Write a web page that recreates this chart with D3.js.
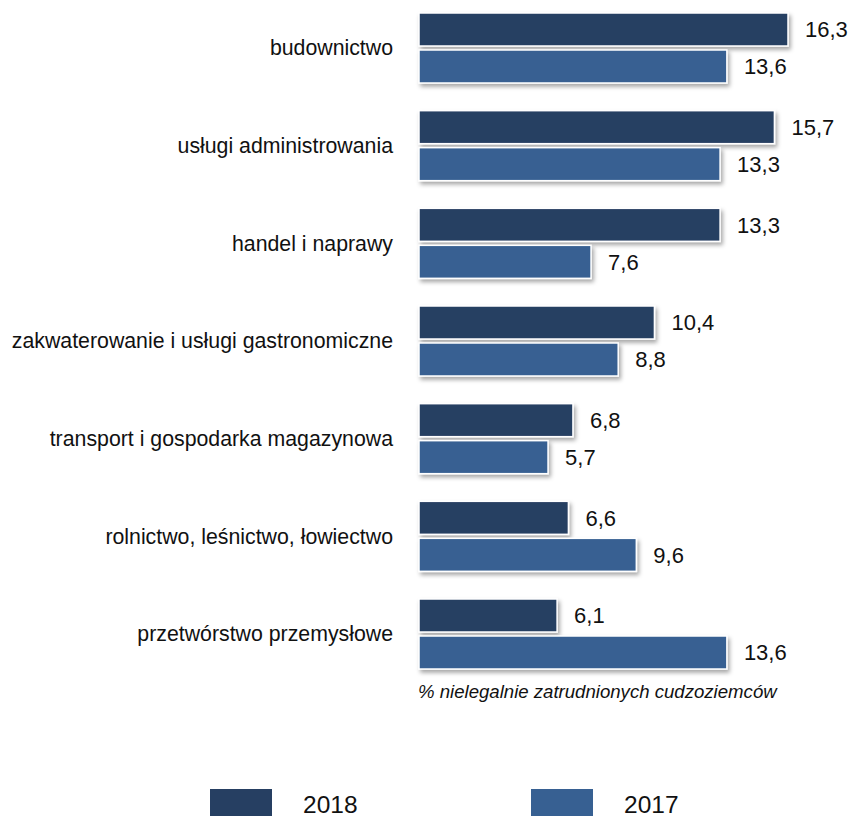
<!DOCTYPE html>
<html>
<head>
<meta charset="utf-8">
<script src="https://cdn.jsdelivr.net/npm/d3@7"></script>
<style>
  html, body { margin: 0; padding: 0; background: #fff; }
  svg { display: block; font-family: "Liberation Sans", Arial, Helvetica, sans-serif; }
</style>
</head>
<body>
<svg id="chart" width="853" height="816"></svg>
<script>
// Sectors and share of illegally employed foreigners (%)
const categories = [
  "budownictwo",
  "usługi administrowania",
  "handel i naprawy",
  "zakwaterowanie i usługi gastronomiczne",
  "transport i gospodarka magazynowa",
  "rolnictwo, leśnictwo, łowiectwo",
  "przetwórstwo przemysłowe"
];
const seriesNames = ["2018", "2017"];
const values2018 = [16.3, 15.7, 13.3, 10.4, 6.8, 6.6, 6.1];
const values2017 = [13.6, 13.3, 7.6, 8.8, 5.7, 9.6, 13.6];
const colors = ["#263f62", "#376092"];
const axisTitle = "% nielegalnie zatrudnionych cudzoziemców";

const svg = d3.select("#chart");

// bar shadow
const defs = svg.append("defs");
const f = defs.append("filter").attr("id", "shadow")
  .attr("x", "-5%").attr("y", "-20%").attr("width", "115%").attr("height", "160%");
f.append("feDropShadow").attr("dx", 2).attr("dy", 3).attr("stdDeviation", 2)
  .attr("flood-color", "#000").attr("flood-opacity", 0.35);

const x = d3.scaleLinear().domain([0, 16.3]).range([419, 788]);
const y = d3.scaleBand().domain(categories).range([13, 669])
  .paddingInner(1 - 70 / 97.67).paddingOuter(0);
const yInner = d3.scaleBand().domain(seriesNames).range([0, y.bandwidth()])
  .paddingInner(4 / 37).paddingOuter(0);

const fmt = v => d3.format(".1f")(v).replace(".", ",");

const rows = categories.map((c, i) => ({
  cat: c,
  vals: [
    { s: "2018", v: values2018[i] },
    { s: "2017", v: values2017[i] }
  ]
}));

const groups = svg.append("g").selectAll("g").data(rows).join("g")
  .attr("transform", d => `translate(0,${y(d.cat)})`);

groups.selectAll("rect").data(d => d.vals).join("rect")
  .attr("x", x(0))
  .attr("y", d => yInner(d.s))
  .attr("width", d => x(d.v) - x(0))
  .attr("height", yInner.bandwidth())
  .attr("fill", (d, i) => colors[i])
  .attr("stroke", "#fff")
  .attr("stroke-width", 1.5)
  .attr("filter", "url(#shadow)");

groups.selectAll("text.val").data(d => d.vals).join("text")
  .attr("class", "val")
  .attr("x", d => x(d.v) + 17)
  .attr("y", d => yInner(d.s) + yInner.bandwidth() / 2)
  .attr("dy", "0.35em")
  .attr("font-size", 22)
  .attr("fill", "#111")
  .text(d => fmt(d.v));

// category labels
svg.append("g").selectAll("text").data(categories).join("text")
  .attr("x", 393)
  .attr("y", d => y(d) + y.bandwidth() / 2)
  .attr("dy", "0.35em")
  .attr("text-anchor", "end")
  .attr("font-size", 21.3)
  .attr("fill", "#111")
  .text(d => d);

// axis title
svg.append("text")
  .attr("x", 418).attr("y", 698)
  .attr("font-size", 18.6)
  .attr("font-style", "italic")
  .attr("fill", "#111")
  .text(axisTitle);

// legend
const legend = svg.append("g").selectAll("g").data(seriesNames).join("g")
  .attr("transform", (d, i) => `translate(${210 + i * 321},789)`);
legend.append("rect").attr("width", 62).attr("height", 30)
  .attr("fill", (d, i) => colors[i]);
legend.append("text").attr("x", 93).attr("y", 23.5)
  .attr("font-size", 24.5).attr("fill", "#111")
  .text(d => d);
</script>
</body>
</html>
